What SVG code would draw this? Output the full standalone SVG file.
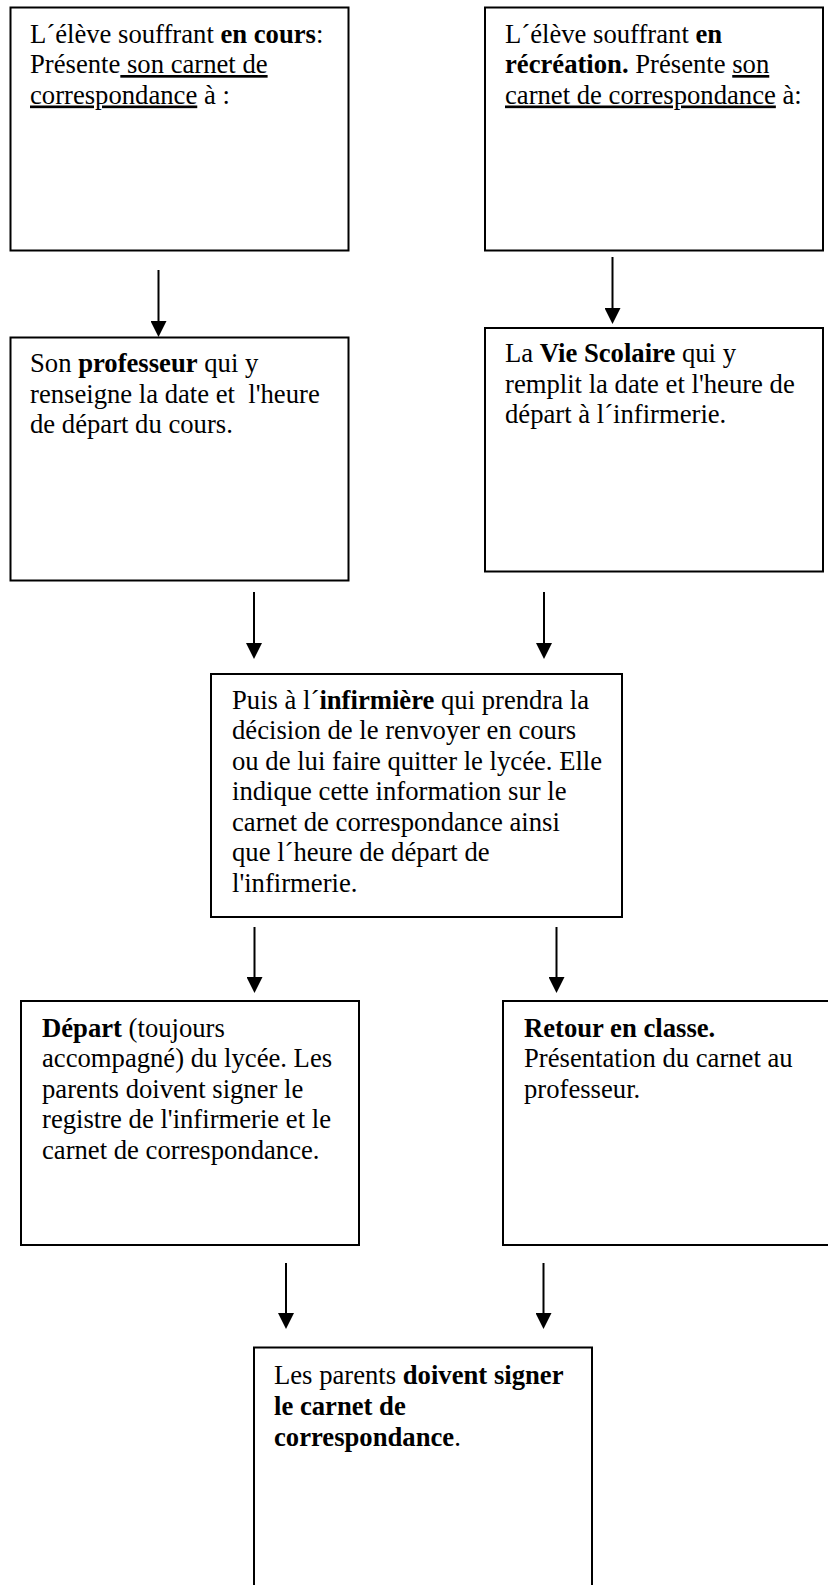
<svg xmlns="http://www.w3.org/2000/svg" width="828" height="1585" viewBox="0 0 828 1585" xml:space="preserve">
<style>
.box{fill:#fff;stroke:#000;stroke-width:2}
.t{font-family:"Liberation Serif","Times New Roman",serif;font-size:26.67px;fill:#000;white-space:pre}
.b{font-weight:bold}
.u{text-decoration:underline}
.c{stroke:#000;stroke-width:2;fill:none}
</style>
<defs>
<marker id="ah" markerUnits="userSpaceOnUse" markerWidth="16" markerHeight="16" viewBox="0 0 16 16" refX="0" refY="8" orient="auto">
<path d="M0,0 L16,8 L0,16 z" fill="#000"/>
</marker>
</defs>
<rect width="828" height="1585" fill="#fff"/>
<g id="connectors">
<line class="c" x1="158.5" y1="270" x2="158.5" y2="321" marker-end="url(#ah)"/>
<line class="c" x1="612.5" y1="257" x2="612.5" y2="308" marker-end="url(#ah)"/>
<line class="c" x1="254" y1="592" x2="254" y2="643" marker-end="url(#ah)"/>
<line class="c" x1="544" y1="592" x2="544" y2="643" marker-end="url(#ah)"/>
<line class="c" x1="254.5" y1="927" x2="254.5" y2="977" marker-end="url(#ah)"/>
<line class="c" x1="556.5" y1="927" x2="556.5" y2="977" marker-end="url(#ah)"/>
<line class="c" x1="286" y1="1263" x2="286" y2="1313" marker-end="url(#ah)"/>
<line class="c" x1="543.5" y1="1263" x2="543.5" y2="1313" marker-end="url(#ah)"/>
</g>
<g id="n1">
<rect class="box" x="10.5" y="7.5" width="338" height="243"/>
<text class="t" x="30" y="42.5">L´élève souffrant <tspan class="b">en cours</tspan>:</text>
<text class="t" x="30" y="73">Présente<tspan class="u"> son carnet de</tspan></text>
<text class="t" x="30" y="103.5"><tspan class="u">correspondance</tspan> à :</text>
</g>
<g id="n2">
<rect class="box" x="485" y="7.5" width="338" height="243"/>
<text class="t" x="505" y="42.5">L´élève souffrant <tspan class="b">en</tspan></text>
<text class="t" x="505" y="73"><tspan class="b">récréation.</tspan> Présente <tspan class="u">son</tspan></text>
<text class="t" x="505" y="103.5"><tspan class="u">carnet de correspondance</tspan> à:</text>
</g>
<g id="n3">
<rect class="box" x="10.5" y="337.5" width="338" height="243"/>
<text class="t" x="30" y="372">Son <tspan class="b">professeur</tspan> qui y</text>
<text class="t" x="30" y="402.5">renseigne la date et  l'heure</text>
<text class="t" x="30" y="433">de départ du cours.</text>
</g>
<g id="n4">
<rect class="box" x="485" y="328" width="338" height="243.5"/>
<text class="t" x="505" y="362">La <tspan class="b">Vie Scolaire</tspan> qui y</text>
<text class="t" x="505" y="392.5">remplit la date et l'heure de</text>
<text class="t" x="505" y="423">départ à l´infirmerie.</text>
</g>
<g id="n5">
<rect class="box" x="211" y="674" width="411" height="243"/>
<text class="t" x="232" y="708.5">Puis à l´<tspan class="b">infirmière</tspan> qui prendra la</text>
<text class="t" x="232" y="739">décision de le renvoyer en cours</text>
<text class="t" x="232" y="769.5">ou de lui faire quitter le lycée. Elle</text>
<text class="t" x="232" y="800">indique cette information sur le</text>
<text class="t" x="232" y="830.5">carnet de correspondance ainsi</text>
<text class="t" x="232" y="861">que l´heure de départ de</text>
<text class="t" x="232" y="891.5">l'infirmerie.</text>
</g>
<g id="n6">
<rect class="box" x="21" y="1001" width="338" height="244"/>
<text class="t" x="42" y="1036.5"><tspan class="b">Départ</tspan> (toujours</text>
<text class="t" x="42" y="1067">accompagné) du lycée. Les</text>
<text class="t" x="42" y="1097.5">parents doivent signer le</text>
<text class="t" x="42" y="1128">registre de l'infirmerie et le</text>
<text class="t" x="42" y="1158.5">carnet de correspondance.</text>
</g>
<g id="n7">
<rect class="box" x="503" y="1001" width="338" height="244"/>
<text class="t" x="524" y="1036.5"><tspan class="b">Retour en classe.</tspan></text>
<text class="t" x="524" y="1067">Présentation du carnet au</text>
<text class="t" x="524" y="1097.5">professeur.</text>
</g>
<g id="n8">
<rect class="box" x="254" y="1347.5" width="338" height="300"/>
<text class="t" x="274" y="1384">Les parents <tspan class="b">doivent signer</tspan></text>
<text class="t" x="274" y="1415"><tspan class="b">le carnet de</tspan></text>
<text class="t" x="274" y="1446"><tspan class="b">correspondance</tspan>.</text>
</g>
</svg>
